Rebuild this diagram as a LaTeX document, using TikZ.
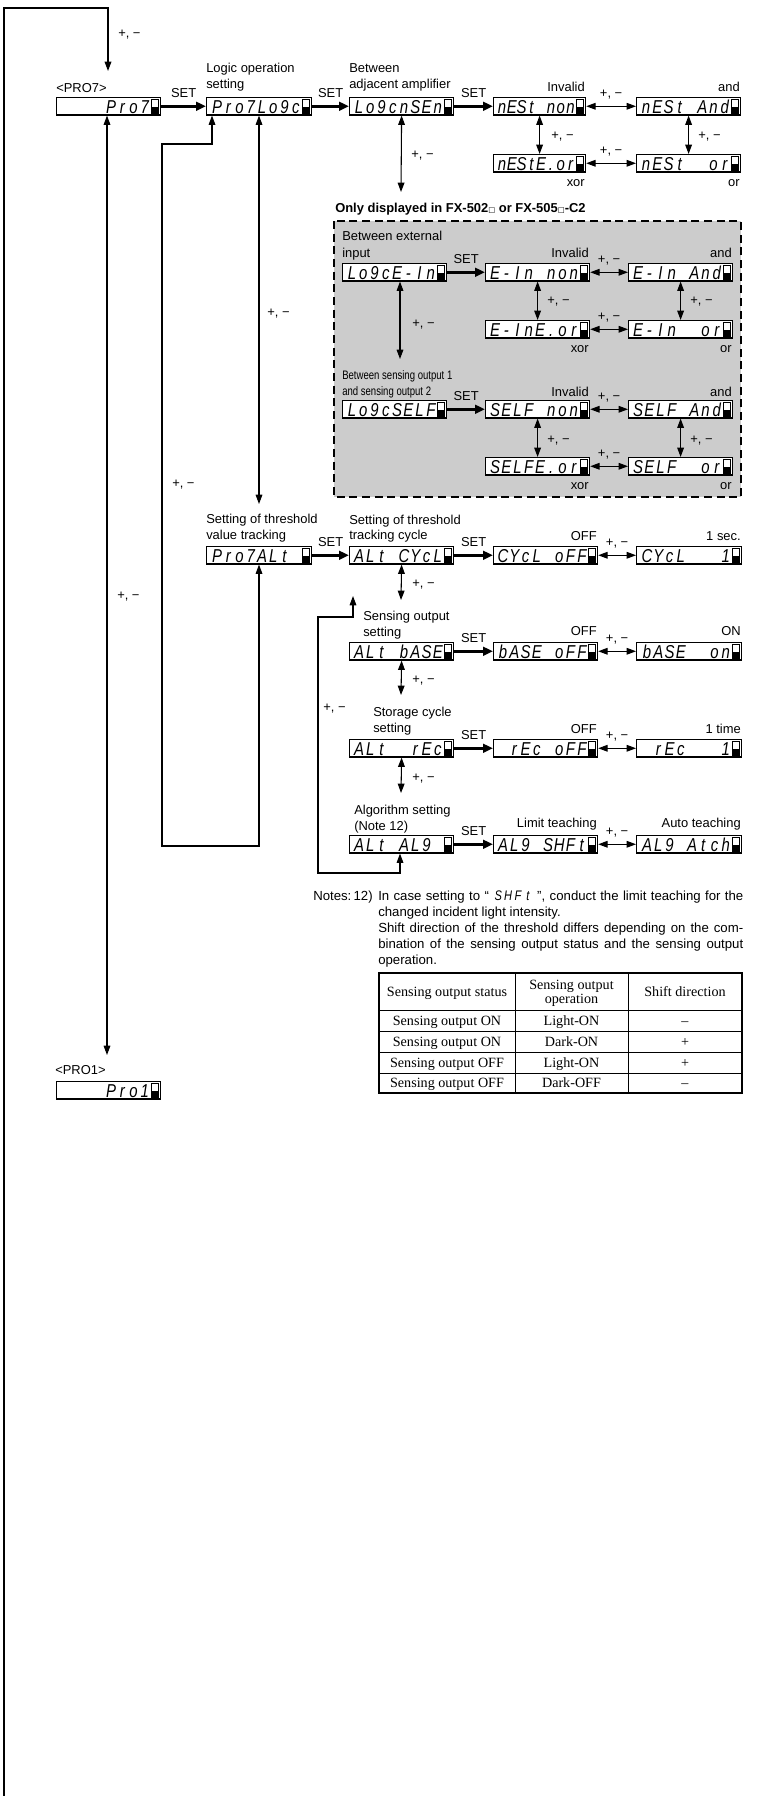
\documentclass[tikz,border=0pt]{standalone}
\usepackage{graphicx}
\usepackage{fontspec}
\usetikzlibrary{arrows.meta,calc}
\setmainfont{Liberation Sans}
\newfontfamily\tabfont{Liberation Serif}
\newfontfamily\symfont{DejaVu Sans}
\newcommand\lf{\fontsize{9.7}{12}\selectfont}
\newcommand\notefont{\fontsize{9.9}{12}\selectfont}
\newlength\cellw
\newcommand\cells[1]{\cellsi#1\relax}
\def\cellsi#1{\ifx\relax#1\else\makebox[\cellw][c]{\scalebox{0.8}[1]{#1}}\expandafter\cellsi\fi}
\newcommand\lcdtxt[2]{{\setlength\cellw{#2}\itshape\fontsize{14}{14}\selectfont\cells{#1}}}
\newcommand\lcdin[1]{{\setlength\cellw{7.4pt}\itshape\fontsize{10.4}{10.4}\selectfont\cells{#1}}}
\newcommand\sq{{\symfont\fontsize{5.5}{6}\selectfont\raisebox{0.3pt}{□}}}
\tikzset{
  lcdbox/.style={draw, line width=0.9pt, fill=white, minimum height=13pt, inner sep=0pt, anchor=north west},
  lcdtext/.style={anchor=base east, inner sep=0pt},
  setarrow/.style={line width=2.3pt, -{Triangle[length=7.5pt,width=6.5pt]}},
  dbl/.style={line width=0.8pt, {Triangle[length=7pt,width=5pt]}-{Triangle[length=7pt,width=5pt]}},
  sglarrow/.style={line width=0.9pt, -{Triangle[length=7pt,width=5pt]}},
  onlbl/.style={midway, anchor=base, inner sep=0pt, yshift=6.4pt},
  tabtxt/.style={anchor=base, inner sep=0pt, font=\tabfont\fontsize{10.6}{12}\selectfont},
}
\newcommand\lcd[6]{%
  \node[lcdbox, minimum width={#4*0.75pt}] (#1) at (#2,#3) {};
  \node[lcdtext] (#1t) at ($(#1.south east)+(-10.5,-2.2)$) {\lcdtxt{#5}{#6}};
  \draw[line width=0.5pt, fill=white] ($(#1.north east)+(-9.5,2)$) rectangle ($(#1.south east)+(-2.5,-2)$);
  \fill ($(#1.east)+(-9.5,0.5)$) rectangle ($(#1.south east)+(-2.5,-2)$);
}
\newcommand\lbl[4]{\node[anchor=base west, inner sep=0pt] (#1) at (#2,#3) {#4};}
\newcommand\rlbl[4]{\node[anchor=base east, inner sep=0pt] (#1) at (#2,#3) {#4};}
\begin{document}
\begin{tikzpicture}[x=0.75pt, y=-0.75pt, font=\lf]
\useasboundingbox[fill=white] (0,0) rectangle (763,1796);
% grey region
\draw[dash pattern=on 6pt off 3.5pt, line width=1.4pt, fill=black!20] (334,221) rectangle (741,497);

% displays
\lcd{pro7}{56}{97}{104}{~~~~Pro7}{8.44pt}
\lcd{logc}{206}{97}{105}{Pro7Lo9c}{8.44pt}
\lcd{nsen}{349}{97}{104}{Lo9cnSEn}{8.44pt}
\lcd{nnon}{493}{97}{92}{nESt~non}{7.35pt}
\lcd{nand}{636}{97}{104}{nESt~And}{8.44pt}
\lcd{nxor}{493}{154}{92}{nEStE.or}{7.35pt}
\lcd{nor}{636}{154}{104}{nESt~~or}{8.44pt}
\lcd{ein}{342}{263}{104}{Lo9cE-In}{8.44pt}
\lcd{einnon}{485}{263}{104}{E-In~non}{8.44pt}
\lcd{einand}{628}{263}{104}{E-In~And}{8.44pt}
\lcd{einxor}{485}{320}{104}{E-InE.or}{8.44pt}
\lcd{einor}{628}{320}{104}{E-In~~or}{8.44pt}
\lcd{self}{342}{400}{104}{Lo9cSELF}{8.44pt}
\lcd{selfnon}{485}{400}{104}{SELF~non}{8.44pt}
\lcd{selfand}{628}{400}{104}{SELF~And}{8.44pt}
\lcd{selfxor}{485}{457}{104}{SELFE.or}{8.44pt}
\lcd{selfor}{628}{457}{104}{SELF~~or}{8.44pt}
\lcd{alt}{206}{546}{105}{Pro7ALt~}{8.44pt}
\lcd{cycl}{349}{546}{104}{ALt~CYcL}{8.44pt}
\lcd{cycloff}{493}{546}{104}{CYcL~oFF}{8.44pt}
\lcd{cyclone}{636}{546}{105}{CYcL~~~1}{8.44pt}
\lcd{bas}{349}{642}{104}{ALt~bASE}{8.44pt}
\lcd{basoff}{493}{642}{104}{bASE~oFF}{8.44pt}
\lcd{bason}{636}{642}{105}{bASE~~on}{8.44pt}
\lcd{rec}{349}{739}{104}{ALt~~rEc}{8.44pt}
\lcd{recoff}{493}{739}{104}{~rEc~oFF}{8.44pt}
\lcd{recone}{636}{739}{105}{~rEc~~~1}{8.44pt}
\lcd{alg}{349}{835}{104}{ALt~AL9~}{8.44pt}
\lcd{shft}{493}{835}{104}{AL9~SHFt}{8.44pt}
\lcd{atch}{636}{835}{105}{AL9~Atch}{8.44pt}
\lcd{pro1}{56}{1081}{104}{~~~~Pro1}{8.44pt}

% labels
\lbl{t1}{118}{37.5}{+, −}
\lbl{t2}{56}{92.5}{<PRO7>}
\lbl{t3}{206}{72.5}{Logic operation}
\lbl{t4}{206}{88.5}{setting}
\lbl{t5}{349}{72.5}{Between}
\lbl{t6}{349}{88.5}{adjacent amplifier}
\rlbl{t7}{585}{91.5}{Invalid}
\rlbl{t8}{740}{91.5}{and}
\lbl{t9}{411}{158}{+, −}
\lbl{t10}{551}{139.5}{+, −}
\lbl{t11}{698}{139.5}{+, −}
\rlbl{t12}{585}{186.5}{xor}
\rlbl{t13}{740}{186.5}{or}
\lbl{t14}{335}{212.5}{\bfseries Only displayed in FX-502\sq{} or FX-505\sq{}-C2}
\lbl{t15}{342}{240.5}{Between external}
\lbl{t16}{342}{257.5}{input}
\rlbl{t17}{589}{257.5}{Invalid}
\rlbl{t18}{732}{257.5}{and}
\lbl{t19}{547}{304.5}{+, −}
\lbl{t20}{690}{304.5}{+, −}
\lbl{t21}{412}{327.5}{+, −}
\rlbl{t22}{589}{352.5}{xor}
\rlbl{t23}{732}{352.5}{or}
\lbl{t24}{342}{379.5}{\scalebox{0.74}[0.95]{Between sensing output 1}}
\lbl{t25}{342}{395.5}{\scalebox{0.74}[0.95]{and sensing output 2}}
\rlbl{t26}{589}{396.5}{Invalid}
\rlbl{t27}{732}{396.5}{and}
\lbl{t28}{547}{443.5}{+, −}
\lbl{t29}{690}{443.5}{+, −}
\rlbl{t30}{589}{489.5}{xor}
\rlbl{t31}{732}{489.5}{or}
\lbl{t32}{172}{487.5}{+, −}
\lbl{t33}{117}{599.5}{+, −}
\lbl{t34}{267}{316.5}{+, −}
\lbl{t35}{206}{523.5}{Setting of threshold}
\lbl{t36}{206}{539.5}{value tracking}
\lbl{t37}{349}{524}{Setting of threshold}
\lbl{t38}{349}{539.5}{tracking cycle}
\rlbl{t39}{597}{540.5}{OFF}
\rlbl{t40}{741}{540.5}{1 sec.}
\lbl{t41}{412}{587.5}{+, −}
\lbl{t42}{363}{620.5}{Sensing output}
\lbl{t43}{363}{636.5}{setting}
\rlbl{t44}{597}{635.5}{OFF}
\rlbl{t45}{741}{635.5}{ON}
\lbl{t46}{412}{683.5}{+, −}
\lbl{t47}{323}{711.5}{+, −}
\lbl{t48}{373}{716.5}{Storage cycle}
\lbl{t49}{373}{732.5}{setting}
\rlbl{t50}{597}{733.5}{OFF}
\rlbl{t51}{741}{733.5}{1 time}
\lbl{t52}{412}{781.5}{+, −}
\lbl{t53}{354}{814.5}{Algorithm setting}
\lbl{t54}{354}{830.5}{(Note 12)}
\rlbl{t55}{597}{827.5}{Limit teaching}
\rlbl{t56}{741}{827.5}{Auto teaching}
\lbl{t57}{55}{1074.5}{<PRO1>}

% SET arrows
\draw[setarrow] (pro7.east) -- (logc.west) node[onlbl]{SET};
\draw[setarrow] (logc.east) -- (nsen.west) node[onlbl]{SET};
\draw[setarrow] (nsen.east) -- (nnon.west) node[onlbl]{SET};
\draw[setarrow] (ein.east) -- (einnon.west) node[onlbl]{SET};
\draw[setarrow] (self.east) -- (selfnon.west) node[onlbl]{SET};
\draw[setarrow] (alt.east) -- (cycl.west) node[onlbl]{SET};
\draw[setarrow] (cycl.east) -- (cycloff.west) node[onlbl]{SET};
\draw[setarrow] (bas.east) -- (basoff.west) node[onlbl]{SET};
\draw[setarrow] (rec.east) -- (recoff.west) node[onlbl]{SET};
\draw[setarrow] (alg.east) -- (shft.west) node[onlbl]{SET};

% horizontal +/- arrows
\draw[dbl] (nnon.east) -- (nand.west) node[onlbl]{+, −};
\draw[dbl] (nxor.east) -- (nor.west) node[onlbl]{+, −};
\draw[dbl] (einnon.east) -- (einand.west) node[onlbl]{+, −};
\draw[dbl] (einxor.east) -- (einor.west) node[onlbl]{+, −};
\draw[dbl] (selfnon.east) -- (selfand.west) node[onlbl]{+, −};
\draw[dbl] (selfxor.east) -- (selfor.west) node[onlbl]{+, −};
\draw[dbl] (cycloff.east) -- (cyclone.west) node[onlbl]{+, −};
\draw[dbl] (basoff.east) -- (bason.west) node[onlbl]{+, −};
\draw[dbl] (recoff.east) -- (recone.west) node[onlbl]{+, −};
\draw[dbl] (shft.east) -- (atch.west) node[onlbl]{+, −};

% vertical +/- arrows
\coordinate (v1) at (401,192);
\draw[dbl] (nsen.south) -- (v1);
\draw[dbl] (nnon.south) -- (nxor.north);
\draw[dbl] (nand.south) -- (nor.north);
\coordinate (v2) at (400,359);
\draw[dbl] (ein.south -| v2) -- (v2);
\draw[dbl] (einnon.south) -- (einxor.north);
\draw[dbl] (einand.south) -- (einor.north);
\draw[dbl] (selfnon.south) -- (selfxor.north);
\draw[dbl] (selfand.south) -- (selfor.north);
\coordinate (v3) at (401,600);
\draw[dbl] (cycl.south) -- (v3);
\coordinate (v4) at (401,695);
\draw[dbl] (bas.south) -- (v4);
\coordinate (v5) at (401,793);
\draw[dbl] (rec.south) -- (v5);

% long connectors
\coordinate (b0) at (4,1796);
\coordinate (b1) at (4,8);
\coordinate (b2) at (108,8);
\coordinate (b3) at (108,71);
\draw[sglarrow] (b0) -- (b1) -- (b2) -- (b3);
\coordinate (c6) at (107,1055);
\draw[dbl] (pro7.south -| c6) -- (c6);
\coordinate (c1) at (212,144);
\coordinate (c2) at (162,144);
\coordinate (c3) at (162,846);
\coordinate (c4) at (259,846);
\draw[dbl] (logc.south -| c1) -- (c1) -- (c2) -- (c3) -- (c4) -- (alt.south -| c4);
\coordinate (c5) at (259,504);
\draw[dbl] (logc.south -| c5) -- (c5);
\coordinate (d1) at (400,873);
\coordinate (d2) at (318,873);
\coordinate (d3) at (318,617);
\coordinate (d4) at (353,617);
\coordinate (d5) at (353,596);
\draw[dbl] (alg.south -| d1) -- (d1) -- (d2) -- (d3) -- (d4) -- (d5);

% notes
\node[anchor=base west, inner sep=0pt, font=\notefont] (n0) at (313,900) {Notes:\,12)};
\node[anchor=base west, inner sep=0pt, font=\notefont] (n1) at (378,900) {\makebox[273.75pt][s]{In case setting to “ \lcdin{SHFt} ”, conduct the limit teaching for the}};
\node[anchor=base west, inner sep=0pt, font=\notefont] (n2) at (378,916) {changed incident light intensity.};
\node[anchor=base west, inner sep=0pt, font=\notefont] (n3) at (378,932) {\makebox[273.75pt][s]{Shift direction of the threshold differs depending on the com-}};
\node[anchor=base west, inner sep=0pt, font=\notefont] (n4) at (378,948) {\makebox[273.75pt][s]{bination of the sensing output status and the sensing output}};
\node[anchor=base west, inner sep=0pt, font=\notefont] (n5) at (378,964) {operation.};

% table
\draw[line width=0.9pt] (379,973) rectangle (742,1093);
\draw[line width=0.7pt] (515,973) -- (515,1093) (628,973) -- (628,1093);
\draw[line width=0.7pt] (379,1010) -- (742,1010) (379,1031) -- (742,1031) (379,1052) -- (742,1052) (379,1073) -- (742,1073);
\node[tabtxt] (h1) at (447,996) {Sensing output status};
\node[tabtxt] (h2a) at (571.5,989.5) {Sensing output};
\node[tabtxt] (h2b) at (571.5,1003) {operation};
\node[tabtxt] (h3) at (685,996) {Shift direction};
\node[tabtxt] (r1a) at (447,1025) {Sensing output ON};
\node[tabtxt] (r1b) at (571.5,1025) {Light-ON};
\node[tabtxt] (r1c) at (685,1025) {–};
\node[tabtxt] (r2a) at (447,1046) {Sensing output ON};
\node[tabtxt] (r2b) at (571.5,1046) {Dark-ON};
\node[tabtxt] (r2c) at (685,1046) {+};
\node[tabtxt] (r3a) at (447,1067) {Sensing output OFF};
\node[tabtxt] (r3b) at (571.5,1067) {Light-ON};
\node[tabtxt] (r3c) at (685,1067) {+};
\node[tabtxt] (r4a) at (447,1087.5) {Sensing output OFF};
\node[tabtxt] (r4b) at (571.5,1087.5) {Dark-OFF};
\node[tabtxt] (r4c) at (685,1087.5) {–};
\end{tikzpicture}
\end{document}
